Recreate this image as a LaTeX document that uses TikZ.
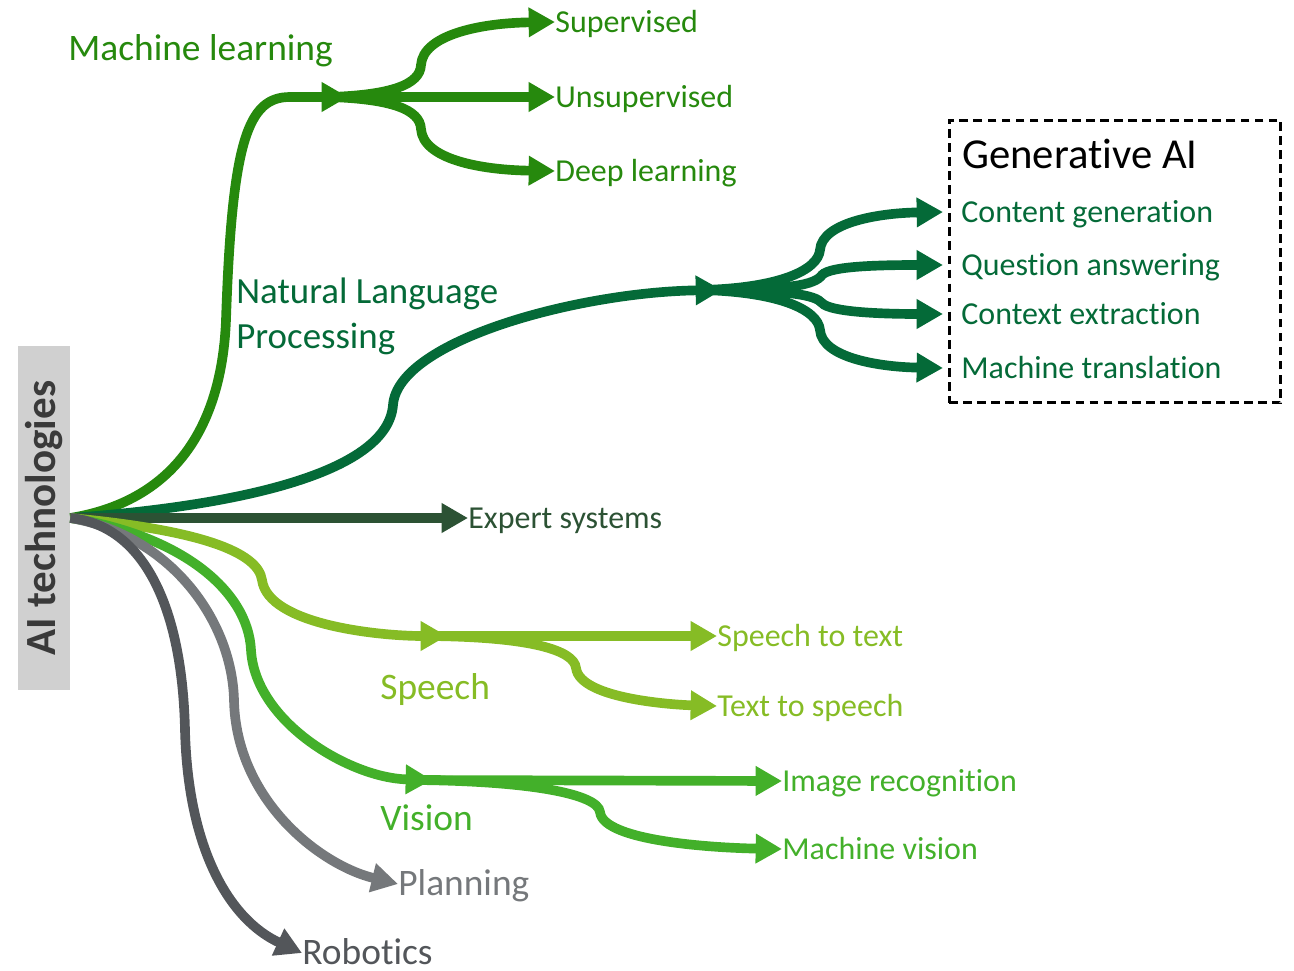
\documentclass[tikz,border=0pt]{standalone}
\usepackage{fontspec}
\setmainfont{Carlito}[Ligatures=NoCommon]
\usepackage{xcolor}
\usepackage{graphicx}
\usepackage{tikz}
\usetikzlibrary{arrows.meta, positioning, calc}
\definecolor{mlgreen}{HTML}{26890D}
\definecolor{nlpgreen}{HTML}{046A38}
\definecolor{expgreen}{HTML}{2C5234}
\definecolor{speechgreen}{HTML}{86BC25}
\definecolor{visiongreen}{HTML}{43B02A}
\definecolor{plangray}{HTML}{75787B}
\definecolor{robgray}{HTML}{53565A}
\definecolor{boxgray}{HTML}{D0D0D0}
\definecolor{titlegray}{HTML}{3A3A3A}

\begin{document}
\begin{tikzpicture}[x=0.02cm, y=-0.02cm,
    branch/.style={line width=5.5pt, -{Triangle[length=15pt, width=16pt]}},
    main/.style={anchor=west, inner sep=0pt, text height=13.4pt, text depth=0pt, font=\fontsize{21.3}{26}\selectfont},
    leaf/.style={anchor=west, inner sep=0pt, text height=11.6pt, text depth=0pt, font=\fontsize{18.2}{22}\selectfont},
    gen/.style={leaf, inner xsep=0.36cm, text=nlpgreen}
]
    \useasboundingbox (0,0) rectangle (1294,970);

    \node[fill=boxgray, minimum width=1.04cm, minimum height=6.88cm, inner sep=0pt, text=titlegray, font=\bfseries\fontsize{24.5}{28}\selectfont] at (44,518) (root) {\rotatebox{90}{AI technologies}};

    \node[main, text=mlgreen] at (68,49) (ml) {Machine learning};
    \node[anchor=base west, inner sep=0pt, align=left, text=nlpgreen, font=\fontsize{21}{25.5}\selectfont] at (236,348) (nlp) {Natural Language\\Processing};
    \node[main, text=speechgreen] at (380,688) (speech) {Speech};
    \node[main, text=visiongreen] at (380,819) (vision) {Vision};

    \node[leaf, text=mlgreen] at (555,22) (sup) {Supervised};
    \node[leaf, text=mlgreen] at (555,97) (unsup) {Unsupervised};
    \node[leaf, text=mlgreen] at (555,171) (deep) {Deep learning};
    \node[leaf, text=expgreen] at (468,518) (exp) {Expert systems};
    \node[leaf, text=speechgreen] at (717,636) (stt) {Speech to text};
    \node[leaf, text=speechgreen] at (717,706) (tts) {Text to speech};
    \node[leaf, text=visiongreen] at (782,781) (imgrec) {Image recognition};
    \node[leaf, text=visiongreen] at (782,849) (machvis) {Machine vision};
    \node[main, text=plangray] at (398,884) (plan) {Planning};
    \node[main, text=robgray] at (302,953) (robot) {Robotics};

    \node[draw, line width=1.7pt, dash pattern=on 5pt off 3pt, minimum width=6.64cm, minimum height=5.66cm] at (1115,261.5) (genbox) {};
    \node[main, text=black, text height=15.6pt, font=\fontsize{24.3}{28}\selectfont] at (962,155) (gentitle) {Generative AI};
    \node[gen] at (943,212) (content) {Content generation};
    \node[gen] at (943,265) (question) {Question answering};
    \node[gen] at (943,314) (context) {Context extraction};
    \node[gen] at (943,368) (translate) {Machine translation};

    \coordinate (mlhead) at (348,97);
    \coordinate (mlfork) at (330,97);
    \coordinate (nlphead) at (722,290);
    \coordinate (nlpfork) at (702,290);
    \coordinate (sphead) at (447,636);
    \coordinate (spfork) at (430,636);
    \coordinate (vihead) at (432,780);
    \coordinate (vifork) at (415,780);

    \draw[branch, mlgreen] (root.east) .. controls (180,500) and (222,420) .. (226,320) .. controls (232,140) and (248,97) .. (290,97) -- (mlhead);
    \draw[branch, mlgreen] (mlfork) .. controls (390,95) and (420,85) .. (421,65) .. controls (423,35) and (480,23) .. (sup.west);
    \draw[branch, mlgreen] (mlfork) -- (unsup.west);
    \draw[branch, mlgreen] (mlfork) .. controls (390,99) and (420,109) .. (421,129) .. controls (423,159) and (480,170) .. (deep.west);

    \draw[branch, nlpgreen] (root.east) .. controls (250,505) and (388,470) .. (393,405) .. controls (398,340) and (580,292) .. (nlphead);
    \draw[branch, nlpgreen] (nlpfork) .. controls (780,288) and (818,270) .. (820,250) .. controls (822,222) and (880,213) .. (content.west);
    \draw[branch, nlpgreen] (nlpfork) .. controls (790,290) and (815,285) .. (822,275) .. controls (830,266) and (880,265) .. (question.west);
    \draw[branch, nlpgreen] (nlpfork) .. controls (790,290) and (815,295) .. (822,303) .. controls (830,312) and (880,314) .. (context.west);
    \draw[branch, nlpgreen] (nlpfork) .. controls (780,292) and (818,310) .. (820,330) .. controls (822,358) and (880,367) .. (translate.west);

    \draw[branch, expgreen] (root.east) -- (exp.west);

    \draw[branch, speechgreen] (root.east) .. controls (200,530) and (258,552) .. (262,580) .. controls (268,625) and (380,636) .. (sphead);
    \draw[branch, speechgreen] (spfork) -- (stt.west);
    \draw[branch, speechgreen] (spfork) .. controls (530,637) and (574,650) .. (576,668) .. controls (580,700) and (680,705) .. (tts.west);

    \draw[branch, visiongreen] (root.east) .. controls (180,535) and (248,590) .. (251,650) .. controls (255,722) and (350,778) .. (vihead);
    \draw[branch, visiongreen] (vifork) -- (imgrec.west);
    \draw[branch, visiongreen] (vifork) .. controls (530,781) and (598,794) .. (600,812) .. controls (603,842) and (720,848) .. (machvis.west);

    \draw[branch, plangray] (root.east) .. controls (170,535) and (232,620) .. (234,700) .. controls (236,800) and (320,865) .. (plan.west);
    \draw[branch, robgray] (root.east) .. controls (140,525) and (182,600) .. (185,730) .. controls (188,850) and (230,920) .. (robot.west);
\end{tikzpicture}
\end{document}
